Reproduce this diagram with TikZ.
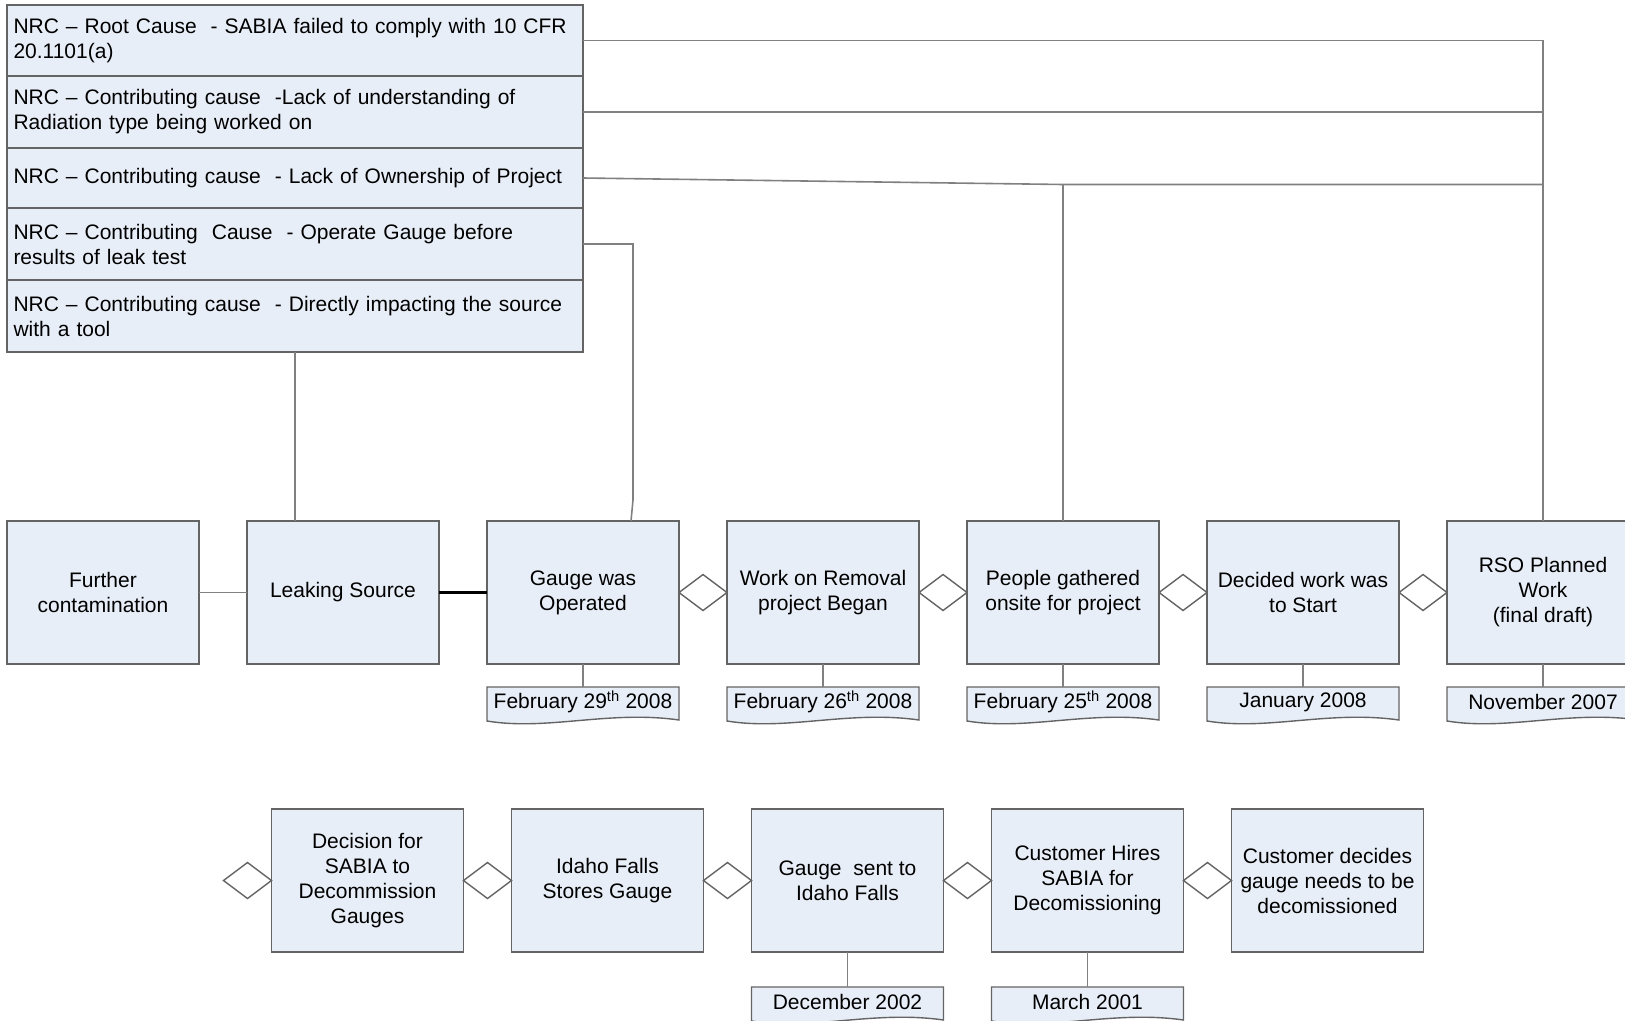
\documentclass[tikz,border=0pt]{standalone}
\usepackage{fontspec}
\setmainfont{Liberation Sans}
\usetikzlibrary{positioning,shapes.geometric,backgrounds}
\definecolor{boxfill}{RGB}{232,238,247}
\definecolor{boxline}{RGB}{100,100,100}
\definecolor{linkgray}{RGB}{128,128,128}

\begin{document}
\begin{tikzpicture}[
    x=1pt, y=-1pt,
    font=\fontsize{21}{25}\selectfont,
    evbox/.style={draw=boxline, fill=boxfill, line width=1.4pt, minimum width=192pt, minimum height=143pt, inner sep=2pt, outer sep=0pt, align=center},
    cause/.style={draw=boxline, fill=boxfill, line width=1.4pt, minimum width=576pt, text width=563pt, inner xsep=6.5pt, inner ysep=0pt, outer sep=0pt, align=left},
    datebox/.style={minimum width=192pt, minimum height=30pt, inner sep=0pt, outer sep=0pt},
    docshape/.style={draw=boxline, fill=boxfill, line width=1.4pt},
    diam/.style={diamond, draw=boxline, fill=white, line width=1.4pt, minimum width=48pt, minimum height=36pt, inner sep=0pt, outer sep=0pt},
    link/.style={draw=linkgray, line width=1.6pt},
    thicklink/.style={draw=black, line width=3pt},
    node distance=48pt
]
\useasboundingbox (0,0) rectangle (1625,1020);
\clip (0,0) rectangle (1625,1020);

% Causes
\node[cause, minimum height=71pt, anchor=north west] (c1) at (7,5) {NRC – Root Cause~ - SABIA failed to comply with 10 CFR\\20.1101(a)};
\node[cause, minimum height=72pt, below=0pt of c1] (c2) {NRC – Contributing cause~ -Lack of understanding of\\Radiation type being worked on};
\node[cause, minimum height=60pt, below=0pt of c2] (c3) {NRC – Contributing cause~ - Lack of Ownership of Project};
\node[cause, minimum height=72pt, below=0pt of c3] (c4) {NRC – Contributing~ Cause~ - Operate Gauge before\\results of leak test};
\node[cause, minimum height=72pt, below=0pt of c4] (c5) {NRC – Contributing cause~ - Directly impacting the source\\with a tool};

% Timeline, upper row
\node[evbox] (further) at (103,592.5) {Further\\contamination};
\node[evbox, right=of further] (leak) {Leaking Source};
\node[evbox, right=of leak] (gop) {Gauge was\\Operated};
\node[evbox, right=of gop] (removal) {Work on Removal\\project Began};
\node[evbox, right=of removal] (people) {People gathered\\onsite for project};
\node[evbox, right=of people] (decided) {Decided work was\\to Start};
\node[evbox, right=of decided] (rso) {RSO Planned\\Work\\(final draft)};

\node[diam, right=0pt of gop] (dm1) {};
\node[diam, right=0pt of removal] (dm2) {};
\node[diam, right=0pt of people] (dm3) {};
\node[diam, right=0pt of decided] (dm4) {};

% Timeline, lower row
\node[evbox] (decision) at (367.5,880.5) {Decision for\\SABIA to\\Decommission\\Gauges};
\node[evbox, right=of decision] (stores) {Idaho Falls\\Stores Gauge};
\node[evbox, right=of stores] (sent) {Gauge~ sent to\\Idaho Falls};
\node[evbox, right=of sent] (hires) {Customer Hires\\SABIA for\\Decomissioning};
\node[evbox, right=of hires] (cdecides) {Customer decides\\gauge needs to be\\decomissioned};

\node[diam, left=0pt of decision] (dm5) {};
\node[diam, right=0pt of decision] (dm6) {};
\node[diam, right=0pt of stores] (dm7) {};
\node[diam, right=0pt of sent] (dm8) {};
\node[diam, right=0pt of hires] (dm9) {};

% Dates
\node[datebox, below=23pt of gop] (d1) {February 29\textsuperscript{th} 2008};
\node[datebox, below=23pt of removal] (d2) {February 26\textsuperscript{th} 2008};
\node[datebox, below=23pt of people] (d3) {February 25\textsuperscript{th} 2008};
\node[datebox, below=23pt of decided] (d4) {January 2008};
\node[datebox, below=23pt of rso] (d5) {November 2007};
\node[datebox, below=35pt of sent] (d6) {December 2002};
\node[datebox, below=35pt of hires] (d7) {March 2001};

\begin{scope}[on background layer]
\foreach \d in {d1,d2,d3,d4,d5,d6,d7}
  \draw[docshape] (\d.north west) -- (\d.north east) -- ([yshift=-3pt]\d.south east)
    .. controls ([xshift=-70pt,yshift=7pt]\d.south east) and ([xshift=60pt,yshift=-14pt]\d.south west) .. ([yshift=-4pt]\d.south west) -- cycle;
\end{scope}

% Links
\draw[link] (further.east) -- (leak.west);
\draw[thicklink] (leak.east) -- (gop.west);
\foreach \b/\d in {gop/d1, removal/d2, people/d3, decided/d4, rso/d5, sent/d6, hires/d7}
  \draw[link] (\b.south) -- (\d.north);

\draw[link] (c1.east) -- (c1.east -| rso.north) -- (rso.north);
\draw[link] (c2.east) -- (c2.east -| rso.north);
\coordinate (j3) at (people.north |- 0,184.5);
\draw[link] (c3.east) -- (j3) -- (j3 -| rso.north);
\draw[link] (j3) -- (people.north);
\draw[link] (c4.east) -- ++(50,0) -- ++(0,256) -- ([xshift=48pt]gop.north);
\draw[link] (c5.south) -- (c5.south |- leak.north);
\end{tikzpicture}
\end{document}
